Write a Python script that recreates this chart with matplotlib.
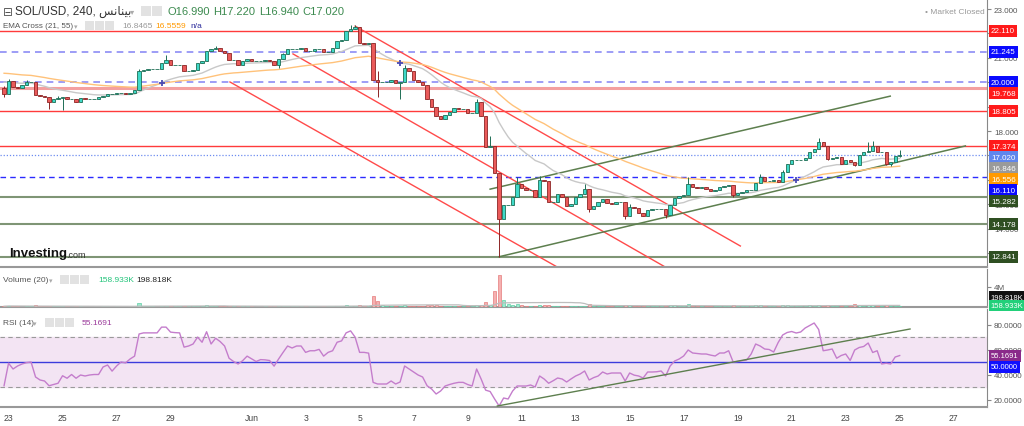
import numpy as np
import pandas as pd
import matplotlib.pyplot as plt
import matplotlib.transforms as mtransforms
from matplotlib.patches import Rectangle

plt.rcParams['font.family'] = ['Liberation Sans', 'DejaVu Sans']

# 4h candles, SOL/USD, 22 May 20:00 -> 25 Jun 00:00
closes = [
    19.50, 20.05, 19.80, 19.75, 19.90, 20.00, 20.00, 19.47, 19.45, 19.40,
    19.20, 19.30, 19.35, 19.40, 19.30, 19.30, 19.20, 19.35, 19.30, 19.30,
    19.30, 19.40, 19.45, 19.50, 19.50, 19.55, 19.55, 19.50, 19.55, 19.70,
    20.45, 20.50, 20.55, 20.55, 20.55, 20.80, 20.90, 20.70, 20.70, 20.70,
    20.45, 20.45, 20.50, 20.80, 20.85, 21.30, 21.35, 21.40, 21.30, 21.20,
    20.90, 20.90, 20.70, 20.85, 20.95, 20.85, 20.85, 20.85, 20.90, 20.85,
    20.70, 20.95, 21.15, 21.35, 21.35, 21.35, 21.40, 21.30, 21.30, 21.35,
    21.35, 21.25, 21.25, 21.40, 21.70, 21.75, 22.10, 22.20, 22.25, 21.60,
    21.55, 21.60, 20.10, 20.00, 20.00, 20.00, 20.10, 19.95, 20.00, 20.60,
    20.45, 20.10, 20.00, 19.90, 19.30, 18.98, 18.60, 18.50, 18.65, 18.80,
    18.95, 18.90, 18.90, 18.75, 18.75, 19.20, 18.60, 17.35, 17.40, 16.30,
    14.40, 14.95, 14.95, 15.30, 15.85, 15.65, 15.60, 15.60, 15.30, 16.00,
    15.95, 15.10, 15.10, 15.42, 15.30, 14.93, 15.00, 15.30, 15.42, 15.62,
    14.80, 14.93, 15.09, 15.21, 15.05, 15.00, 15.10, 15.10, 14.50, 14.90,
    14.85, 14.65, 14.50, 14.75, 14.80, 14.80, 14.80, 14.55, 14.95, 15.25,
    15.35, 15.40, 15.85, 15.70, 15.65, 15.70, 15.62, 15.55, 15.58, 15.70,
    15.75, 15.80, 15.38, 15.45, 15.50, 15.58, 15.60, 15.88, 16.12, 15.95,
    15.95, 16.00, 15.90, 16.32, 16.65, 16.80, 16.80, 16.82, 16.90, 17.15,
    17.25, 17.55, 17.40, 16.85, 16.90, 16.95, 16.65, 16.80, 16.75, 16.60,
    17.00, 17.15, 17.20, 17.40, 17.15, 17.15, 16.65, 16.75, 16.99, 17.02,
]
first_open = 19.75

wick_highs = {0: 19.85, 1: 20.15, 5: 20.08, 12: 19.45, 30: 20.55, 36: 21.10,
              47: 21.50, 62: 21.20, 77: 22.35, 78: 22.35, 83: 20.45, 89: 20.70,
              105: 19.30, 108: 17.80, 114: 16.10, 119: 16.15, 129: 15.85,
              139: 15.00, 152: 16.10, 168: 16.25, 173: 16.40, 181: 17.70,
              192: 17.55, 193: 17.60, 199: 17.22}
wick_lows = {0: 19.40, 10: 18.90, 13: 18.85, 61: 20.60, 83: 19.40, 88: 19.30,
             110: 12.85, 111: 14.70, 130: 14.70, 138: 14.40, 143: 14.55,
             147: 14.45, 162: 15.30, 183: 16.80, 189: 16.55, 196: 16.60,
             197: 16.55, 199: 16.94}

volumes_k = [
    150, 250, 180, 120, 100, 110, 120, 350, 180, 150,
    300, 150, 120, 200, 130, 100, 150, 120, 100, 100,
    90, 100, 120, 110, 100, 120, 100, 90, 100, 150,
    900, 250, 150, 120, 100, 220, 300, 200, 150, 120,
    200, 150, 120, 170, 150, 350, 200, 220, 170, 150,
    220, 150, 170, 150, 170, 120, 100, 100, 120, 120,
    170, 200, 220, 250, 150, 120, 120, 150, 120, 120,
    100, 120, 120, 150, 300, 220, 350, 300, 250, 350,
    200, 150, 2300, 1200, 400, 250, 200, 220, 300, 450,
    250, 300, 200, 170, 450, 350, 400, 300, 250, 200,
    220, 150, 150, 170, 150, 350, 400, 1000, 450, 3300,
    6400, 1500, 600, 500, 550, 350, 300, 250, 300, 450,
    350, 400, 250, 250, 200, 250, 200, 200, 220, 300,
    550, 300, 200, 200, 170, 150, 150, 150, 500, 350,
    200, 220, 300, 270, 200, 150, 150, 250, 350, 400,
    250, 200, 550, 300, 200, 170, 150, 170, 150, 200,
    170, 200, 400, 200, 150, 150, 170, 350, 400, 250,
    200, 150, 200, 400, 450, 300, 200, 170, 220, 350,
    300, 500, 300, 450, 250, 200, 300, 200, 170, 600,
    450, 300, 350, 400, 250, 200, 450, 250, 250, 159,
]

rsi = [
    31.0, 49.0, 44.4, 46.8, 48.4, 49.5, 50.0, 38.0, 35.6, 34.8,
    31.0, 32.0, 33.0, 39.0, 37.0, 40.0, 37.0, 39.6, 38.8, 39.6,
    40.0, 40.0, 46.0, 47.6, 42.7, 46.8, 50.0, 49.3, 52.4, 54.7,
    72.4, 73.3, 73.3, 73.3, 73.3, 77.9, 77.9, 73.9, 73.5, 73.3,
    61.9, 62.8, 64.4, 69.9, 65.8, 74.2, 64.4, 69.0, 66.4, 62.8,
    53.0, 50.4, 48.4, 51.0, 54.7, 52.5, 50.4, 51.9, 51.7, 51.2,
    46.7, 52.4, 57.7, 62.8, 61.2, 62.8, 62.8, 57.7, 59.0, 59.0,
    60.1, 54.7, 57.7, 59.0, 65.8, 66.9, 73.3, 74.9, 69.9, 57.7,
    57.7, 57.1, 33.7, 32.4, 32.4, 32.4, 34.8, 32.4, 34.0, 46.8,
    44.4, 42.0, 39.6, 38.0, 31.0, 28.4, 24.4, 26.8, 30.8, 32.0,
    33.0, 33.7, 33.7, 32.0, 30.8, 44.4, 36.4, 27.5, 26.4, 20.4,
    14.8, 21.2, 20.4, 26.8, 30.8, 30.8, 30.8, 31.6, 30.0, 38.8,
    36.4, 33.0, 35.0, 37.2, 36.4, 34.0, 36.5, 38.8, 40.4, 42.8,
    35.6, 37.5, 38.8, 42.0, 40.4, 41.2, 41.2, 41.2, 34.8, 41.2,
    39.5, 38.8, 37.2, 42.0, 42.0, 42.2, 42.8, 38.8, 46.8, 50.8,
    52.4, 54.8, 59.6, 57.2, 56.8, 56.4, 56.4, 55.5, 54.8, 57.2,
    57.2, 59.0, 50.0, 50.4, 51.0, 51.6, 56.4, 64.4, 62.8, 60.4,
    60.0, 58.0, 65.6, 71.6, 73.6, 74.4, 73.2, 74.0, 77.2, 79.2,
    81.2, 76.0, 59.0, 59.6, 60.4, 53.0, 55.2, 56.4, 51.2, 59.6,
    61.6, 62.4, 65.2, 57.6, 59.0, 48.4, 49.0, 48.4, 54.0, 55.1691,
]

ema21_seed = 20.05
ema55_seed = 20.40
ema21_last = 16.846
ema55_last = 16.556

resist_levels = [22.110, 18.805, 17.374]
soft_resist = [19.768]
pivot_levels = [21.245, 20.000]
support_pivot = [16.110]
support_levels = [15.282, 14.178, 12.841]
last_price = 17.020

# drawn trend lines as (bar index, price) pairs
red_channel = [((78.0, 22.30), (163.6, 13.29)),
               ((64.2, 21.16), (146.9, 12.43)),
               ((50.2, 20.01), (122.9, 12.43))]
green_channel = [((110.0, 12.85), (213.6, 17.39)),
                 ((108.0, 15.62), (196.9, 19.43))]
rsi_trend = ((109.6, 14.8), (201.3, 76.4))

tick_pos = [1, 13, 25, 37, 55, 67, 79, 91, 103, 115, 127, 139, 151, 163, 175, 187, 199, 211]
tick_lab = ['23', '25', '27', '29', 'Jun', '3', '5', '7', '9', '11', '13', '15',
            '17', '19', '21', '23', '25', '27']


def ema(values, span, seed):
    a = 2 / (span + 1)
    e = seed
    out = []
    for v in values:
        e = e + a * (v - e)
        out.append(e)
    return np.array(out)


n = len(closes)
idx = np.arange(n)
closes = np.array(closes)
opens = np.concatenate([[first_open], closes[:-1]])
highs = np.maximum(opens, closes)
lows = np.minimum(opens, closes)
for k, v in wick_highs.items():
    highs[k] = v
for k, v in wick_lows.items():
    lows[k] = v
up = closes >= opens

ema21 = ema(closes, 21, ema21_seed)
ema55 = ema(closes, 55, ema55_seed)
vols = np.array(volumes_k) * 1000
vol_ma = pd.Series(vols).rolling(20, min_periods=1).mean().values

fig = plt.figure(figsize=(10.24, 4.27), dpi=100)


def fx(x):
    return x / 1024


def fy(y):
    return 1 - y / 427


ax = fig.add_axes([0, fy(268), fx(987), 268 / 427])
axv = fig.add_axes([0, fy(308), fx(987), 38 / 427], sharex=ax)
axr = fig.add_axes([0, fy(408), fx(987), 98 / 427], sharex=ax)

for a in (ax, axv, axr):
    a.spines['left'].set_visible(False)
    a.spines['top'].set_visible(False)
    a.spines['right'].set_color('#888888')
    a.spines['bottom'].set_color('#999999')
    a.spines['bottom'].set_linewidth(1.5)
    a.yaxis.tick_right()
    a.tick_params(axis='y', direction='out', length=3, color='#888888',
                  labelsize=5.8, labelcolor='#555555', pad=2)
    a.tick_params(axis='x', length=0)
    a.set_facecolor('white')

ax.set_xlim(-0.9, 218.4)
ax.set_ylim(12.43, 23.41)
ax.tick_params(axis='x', labelbottom=False)
axv.tick_params(axis='x', labelbottom=False)
ax.set_yticks(np.arange(13, 24))
ax.set_yticklabels([f'{v:.3f}' for v in np.arange(13, 24)])

# horizontal levels
for p in resist_levels:
    ax.axhline(p, color='#ff3b3b', lw=1.0, zorder=1)
for p in soft_resist:
    ax.axhline(p, color='#f4a0a0', lw=2.2, zorder=1)
for p in pivot_levels:
    ax.axhline(p, color='#8c8cf5', lw=1.2, ls=(0, (4, 3)), zorder=1)
for p in support_pivot:
    ax.axhline(p, color='#2b2bff', lw=1.0, ls=(0, (4, 3)), zorder=1)
for p in support_levels:
    ax.axhline(p, color='#7f9575', lw=1.5, zorder=1)
ax.axhline(last_price, color='#6d8cf0', lw=0.9, ls=(0, (1, 1.5)), zorder=1)

# trend lines
for (x0, y0), (x1, y1) in red_channel:
    ax.plot([x0, x1], [y0, y1], color='#ff4a4a', lw=1.0, zorder=2)
for (x0, y0), (x1, y1) in green_channel:
    ax.plot([x0, x1], [y0, y1], color='#5d7f4e', lw=1.1, zorder=2)

# EMAs
ax.plot(idx, ema21, color='#c8c8c8', lw=1.0, zorder=3)
ax.plot(idx, ema55, color='#ffc27a', lw=1.0, zorder=3)
diff = np.sign(ema21 - ema55)
cross = np.where(diff[1:] != diff[:-1])[0] + 1
ax.plot(cross, ema21[cross], ls='none', marker='+', ms=4, mew=1.3,
        color='#4b4bb5', zorder=4)

# candles
body_lo = np.minimum(opens, closes)
body_h = np.abs(closes - opens)
edge = np.where(up, '#1f6e55', '#8c2525')
fill = np.where(up, '#3fd9c8', '#ea5a5a')
ax.vlines(idx, lows, highs, colors=edge, lw=0.7, zorder=5)
ax.bar(idx, body_h, bottom=body_lo, width=0.74, color=fill, edgecolor=edge,
       linewidth=0.6, zorder=6)


def tag(a, y, text, bg, fg='white', size=5.8):
    tr = mtransforms.blended_transform_factory(a.transAxes, a.transData)
    a.text(1.004, y, text, transform=tr, ha='left', va='center', fontsize=size,
           color=fg, clip_on=False, zorder=20,
           bbox=dict(boxstyle='square,pad=0.3', fc=bg, ec='none'))


# price tags, pushed down so they do not overlap (about 11 px apart)
tags = [(p, '#ff1a1a') for p in resist_levels + soft_resist]
tags += [(p, '#0a0aff') for p in pivot_levels + support_pivot]
tags += [(last_price, '#5f86ee'), (ema21_last, '#9a9a9a'), (ema55_last, '#ff9a00')]
tags += [(p, '#2f4f22') for p in support_levels]
tags.sort(key=lambda t: -t[0])
min_gap = 11 / 24.4
prev = None
for p, c in tags:
    pos = p if prev is None else min(p, prev - min_gap)
    tag(ax, pos, f'{p:.3f}', c)
    prev = pos

# volume panel
vcol = np.where(up, '#9fe8cf', '#f5b0b0')
axv.bar(idx, vols, width=0.7, color=vcol, edgecolor=np.where(up, '#5fcfa5', '#e57c7c'),
        linewidth=0.5, zorder=3)
axv.plot(idx, vol_ma, color='#bdbdbd', lw=0.9, zorder=4)
axv.set_ylim(0, 7.6e6)
axv.set_yticks([4e6])
axv.set_yticklabels(['4M'])
tag(axv, 2.0e6, '198.818K', '#111111', size=5.5)
tag(axv, 0.3e6, '158.933K', '#22d07a', size=5.5)

# RSI panel
axr.axhspan(30, 70, color='#f3e4f3', zorder=0)
axr.axhline(70, color='#9a9a9a', lw=0.8, ls=(0, (4, 3)), zorder=1)
axr.axhline(30, color='#9a9a9a', lw=0.8, ls=(0, (4, 3)), zorder=1)
axr.axhline(50, color='#3c3cdc', lw=1.0, zorder=1)
axr.plot(idx, rsi, color='#c47dcc', lw=1.0, zorder=3)
(rx0, ry0), (rx1, ry1) = rsi_trend
axr.plot([rx0, rx1], [ry0, ry1], color='#5d7f4e', lw=1.0, zorder=4)
axr.set_ylim(14, 92.4)
axr.set_yticks([20, 40, 60, 80])
axr.set_yticklabels([f'{v:.4f}' for v in (20, 40, 60, 80)])
tag(axr, 54.8, f'{rsi[-1]:.4f}', '#8a2a8a', size=5.5)
tag(axr, 46.0, '50.0000', '#1010ff', size=5.5)
axr.set_xticks(tick_pos)
axr.set_xticklabels(tick_lab)
axr.tick_params(axis='x', labelsize=6.2, labelcolor='#444444', pad=4)

# header texts
fig.text(fx(3), fy(12), '\u229f', fontsize=8.5, color='#555555', va='center',
         family='DejaVu Sans')
fig.text(fx(15), fy(12), 'SOL/USD, 240, \ufeb2\ufee7\ufe8e\ufee8\ufef4\ufe91',
         fontsize=8.5, color='#333333', va='center')
fig.text(fx(130), fy(12), '\u25be', fontsize=6, color='#aaaaaa', va='center',
         family='DejaVu Sans')
for x0 in (141, 152):
    fig.patches.append(Rectangle((fx(x0), fy(17)), fx(10), 10 / 427,
                                 transform=fig.transFigure, fc='#e2e2e2', ec='none'))
for x0, s in zip((168, 213, 259, 302),
                 ('O16.990', 'H17.220', 'L16.940', 'C17.020')):
    fig.text(fx(x0), fy(12), s, fontsize=8, color='#3c8a4f', va='center')

fig.text(fx(3), fy(27), 'EMA Cross (21, 55)', fontsize=5.8, color='#555555', va='center')
fig.text(fx(74), fy(27), '\u25be', fontsize=5, color='#aaaaaa', va='center',
         family='DejaVu Sans')
for x0 in (85, 95, 105):
    fig.patches.append(Rectangle((fx(x0), fy(31)), fx(9), 9 / 427,
                                 transform=fig.transFigure, fc='#e2e2e2', ec='none'))
fig.text(fx(122), fy(27), '16.8465', fontsize=6, color='#999999', va='center')
fig.text(fx(155), fy(27), '16.5559', fontsize=6, color='#ff9900', va='center')
fig.text(fx(190), fy(27), 'n/a', fontsize=6, color='#2a2a9a', va='center')

fig.text(fx(925), fy(12), '\u2022 Market Closed', fontsize=6, color='#9a9a9a', va='center')

fig.text(fx(9), fy(254), 'Investing', fontsize=9.5, fontweight='bold',
         color='#111111', va='center')
fig.text(fx(66), fy(256), '.com', fontsize=6.5, color='#333333', va='center')

fig.text(fx(3), fy(281), 'Volume (20)', fontsize=6, color='#555555', va='center')
fig.text(fx(49), fy(281), '\u25be', fontsize=5, color='#aaaaaa', va='center',
         family='DejaVu Sans')
for x0 in (60, 70, 80):
    fig.patches.append(Rectangle((fx(x0), fy(285)), fx(9), 9 / 427,
                                 transform=fig.transFigure, fc='#e2e2e2', ec='none'))
fig.text(fx(98), fy(281), '158.933K', fontsize=6, color='#22c47a', va='center')
fig.text(fx(136), fy(281), '198.818K', fontsize=6, color='#222222', va='center')

fig.text(fx(3), fy(324), 'RSI (14)', fontsize=6, color='#555555', va='center')
fig.text(fx(33), fy(324), '\u25be', fontsize=5, color='#aaaaaa', va='center',
         family='DejaVu Sans')
for x0 in (45, 55, 65):
    fig.patches.append(Rectangle((fx(x0), fy(328)), fx(9), 9 / 427,
                                 transform=fig.transFigure, fc='#e2e2e2', ec='none'))
fig.text(fx(82), fy(324), '55.1691', fontsize=6, color='#9b3a9b', va='center')

fig.savefig('out.png', dpi=100)
